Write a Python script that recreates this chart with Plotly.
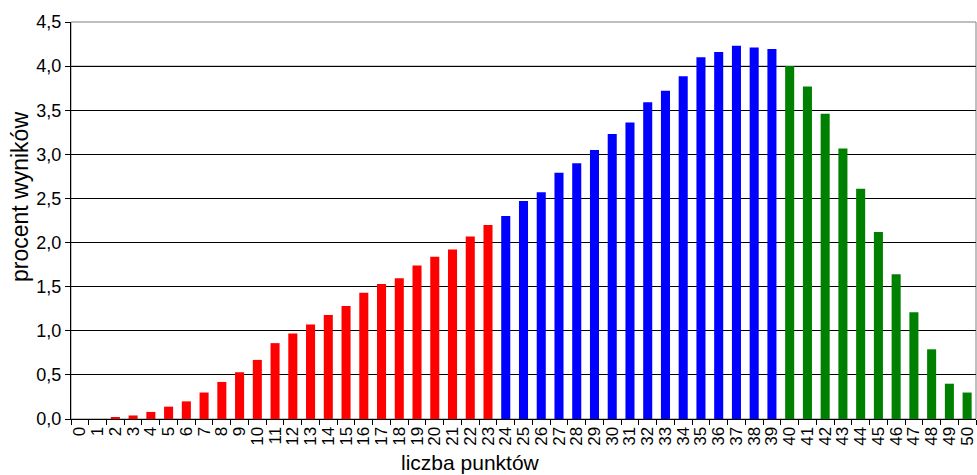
import plotly.graph_objects as go

points = list(range(0, 51))
percent = [0.0, 0.0, 0.02, 0.04, 0.08, 0.14, 0.20, 0.30, 0.42, 0.53,
           0.67, 0.86, 0.97, 1.07, 1.18, 1.28, 1.43, 1.53, 1.595, 1.74,
           1.84, 1.92, 2.07, 2.20, 2.30, 2.47, 2.57, 2.79, 2.90, 3.05,
           3.23, 3.36, 3.59, 3.72, 3.885, 4.10, 4.16, 4.23, 4.21, 4.195,
           4.00, 3.77, 3.46, 3.065, 2.61, 2.12, 1.64, 1.21, 0.79, 0.40,
           0.30]
tick_labels = [str(p) for p in points]
group_colors = {"low": "#FF0000", "mid": "#0000FF", "high": "#008000"}
group_starts = {"low": 0, "mid": 24, "high": 40}
x_title = "liczba punktów"
y_title = "procent wyników"

def color_for(p):
    if p >= group_starts["high"]:
        return group_colors["high"]
    if p >= group_starts["mid"]:
        return group_colors["mid"]
    return group_colors["low"]

colors = [color_for(p) for p in points]

W, H = 977, 475
ML, MR, MT, MB = 71, 1, 22, 56
plot_h = H - MT - MB

fig = go.Figure(go.Bar(
    x=tick_labels, y=percent,
    marker=dict(color=colors, line=dict(width=0)),
    hoverinfo="x+y",
))

fig.update_layout(
    width=W, height=H,
    margin=dict(l=ML, r=MR, t=MT, b=MB, autoexpand=False),
    paper_bgcolor="white", plot_bgcolor="white",
    bargap=0.49,
    separators=", ",
    showlegend=False,
    font=dict(family="Liberation Sans, Arial, sans-serif", color="black"),
    xaxis=dict(
        type="category",
        automargin=False,
        tickmode="array",
        tickvals=tick_labels,
        ticktext=tick_labels,
        tickangle=-90,
        tickfont=dict(size=17),
        ticks="outside", ticklen=5, tickcolor="black",
        tickson="boundaries",
        showline=True, linecolor="black", linewidth=1,
        showgrid=False,
    ),
    yaxis=dict(
        automargin=False,
        range=[0, 4.5],
        dtick=0.5,
        tickformat=".1f",
        tickfont=dict(size=18),
        ticks="outside", ticklen=5, tickcolor="black",
        showline=True, linecolor="black", linewidth=1,
        showgrid=True, gridcolor="black", gridwidth=1,
        zeroline=False,
    ),
    shapes=[
        dict(type="rect", xref="paper", yref="paper", x0=0, x1=1, y0=0, y1=1,
             line=dict(color="#808080", width=1), layer="below"),
        dict(type="line", xref="paper", yref="y", x0=0, x1=1, y0=4.0, y1=4.0,
             line=dict(color="#808080", width=1), layer="below"),
    ],
    annotations=[
        dict(text=x_title, xref="paper", yref="paper",
             x=(470 - ML) / (W - ML - MR), y=-(462 - (MT + plot_h)) / plot_h,
             xanchor="center", yanchor="middle", showarrow=False,
             font=dict(size=21)),
        dict(text=y_title, xref="paper", yref="paper",
             x=-(ML - 20) / (W - ML - MR), y=(MT + plot_h - 197) / plot_h,
             xanchor="center", yanchor="middle", showarrow=False,
             textangle=-90, font=dict(size=23)),
    ],
)

fig.write_html("out.html", config={"displayModeBar": False},
               post_script="document.body.style.margin='0px';")
